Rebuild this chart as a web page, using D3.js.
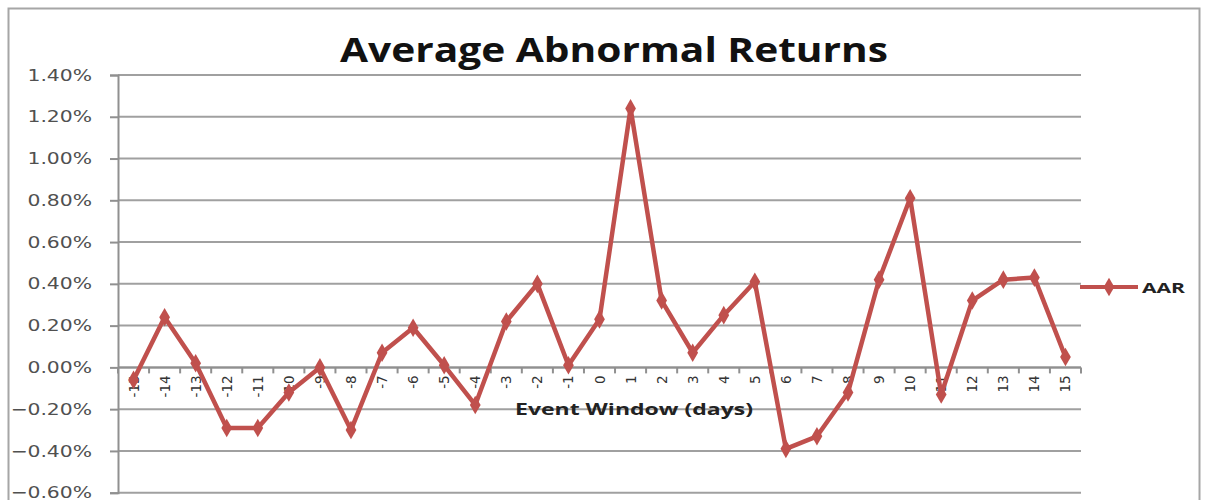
<!DOCTYPE html>
<html><head><meta charset="utf-8">
<script src="https://cdn.jsdelivr.net/npm/d3@7"></script>
<style>body{margin:0;background:#fff}svg{display:block}</style>
</head><body>
<svg id="c" width="1207" height="500"></svg>
<script>
const categories = ["-15","-14","-13","-12","-11","-10","-9","-8","-7","-6","-5","-4","-3","-2","-1","0","1","2","3","4","5","6","7","8","9","10","11","12","13","14","15"];
const aar = [-0.06,0.24,0.02,-0.29,-0.29,-0.12,0.00,-0.30,0.07,0.19,0.01,-0.18,0.22,0.40,0.01,0.23,1.24,0.32,0.07,0.25,0.41,-0.39,-0.33,-0.12,0.42,0.81,-0.13,0.32,0.42,0.43,0.05];
const yTicks = [1.4,1.2,1.0,0.8,0.6,0.4,0.2,0,-0.2,-0.4,-0.6];
const seriesName = "AAR";
const title = "Average Abnormal Returns";
const xTitle = "Event Window (days)";

const svg = d3.select("#c");
const pL = 118, pR = 1081, pT = 75, pB = 492.7;
const red = "#c0504d";

function stretch(sel, f){
  sel.each(function(){ const w = this.getComputedTextLength(); d3.select(this).attr("textLength", w*f).attr("lengthAdjust","spacingAndGlyphs"); });
}

// outer frame
svg.append("rect").attr("x",8.5).attr("y",8.5).attr("width",1191).attr("height",500)
  .attr("fill","none").attr("stroke","#a6a6a6").attr("stroke-width",2);

const x = d3.scaleBand().domain(categories).range([pL,pR]);
const y = d3.scaleLinear().domain([-0.6,1.4]).range([pB,pT]);

// gridlines
svg.append("g").selectAll("line").data(yTicks).join("line")
  .attr("x1",pL).attr("x2",pR).attr("y1",d=>y(d)).attr("y2",d=>y(d))
  .attr("stroke","#a0a0a0").attr("stroke-width",2);

// y axis
const yAxis = d3.axisLeft(y).tickValues(yTicks).tickSize(8).tickPadding(18)
  .tickFormat(d=>d3.format(".2f")(d)+"%");
const gy = svg.append("g").attr("transform",`translate(${pL},0)`).call(yAxis);
gy.select(".domain").attr("stroke","#909090").attr("stroke-width",2);
gy.selectAll(".tick line").attr("stroke","#909090").attr("stroke-width",2);
gy.selectAll("text").attr("font-family","DejaVu Sans").attr("font-size",16).attr("fill","#505050");
stretch(gy.selectAll("text"), 1.27);

// x axis at zero
const gx = svg.append("g").attr("transform",`translate(0,${y(0)})`);
gx.append("line").attr("x1",pL).attr("x2",pR).attr("stroke","#909090").attr("stroke-width",2);
const bounds = categories.map(c=>x(c)).concat([pR]);
gx.selectAll(".tk").data(bounds).join("line").attr("class","tk")
  .attr("x1",d=>d).attr("x2",d=>d).attr("y1",0).attr("y2",6)
  .attr("stroke","#909090").attr("stroke-width",2);
gx.selectAll(".lb").data(categories).join("text").attr("class","lb")
  .attr("transform",d=>`translate(${x(d)+x.bandwidth()/2+5},8) rotate(-90)`)
  .attr("text-anchor","end").attr("font-family","DejaVu Sans").attr("font-size",13.5)
  .attr("fill","#333").text(d=>d);

// x title
const xt = svg.append("text").attr("x",634).attr("y",415).attr("text-anchor","middle")
  .attr("font-family","Open Sans").attr("font-weight","bold").attr("font-size",16)
  .attr("fill","#222").text(xTitle);
stretch(xt, 238/ xt.node().getComputedTextLength());

// title
const tt = svg.append("text").attr("x",614).attr("y",62).attr("text-anchor","middle")
  .attr("font-family","Open Sans").attr("font-weight","bold").attr("font-size",34)
  .attr("fill","#111").text(title);
stretch(tt, 548/ tt.node().getComputedTextLength());

// line
const cx = d=>x(d)+x.bandwidth()/2;
const data = categories.map((c,i)=>({c,v:aar[i]}));
svg.append("path").datum(data)
  .attr("d",d3.line().x(d=>cx(d.c)).y(d=>y(d.v)))
  .attr("fill","none").attr("stroke",red).attr("stroke-width",4.5).attr("stroke-linejoin","round");
const diamond = d3.symbol().type(d3.symbolDiamond).size(100);
svg.append("g").selectAll("path").data(data).join("path")
  .attr("d",diamond).attr("transform",d=>`translate(${cx(d.c)},${y(d.v)})`).attr("fill",red);

// legend
const lg = svg.append("g").attr("transform","translate(1080,287)");
lg.append("line").attr("x1",0).attr("x2",58).attr("stroke",red).attr("stroke-width",4);
lg.append("path").attr("d",diamond).attr("transform","translate(29,0)").attr("fill",red);
const lt = lg.append("text").attr("x",62).attr("y",5.5).attr("font-family","Open Sans").attr("font-weight","bold")
  .attr("font-size",15).attr("fill","#222").text(seriesName);
stretch(lt, 43/ lt.node().getComputedTextLength());
</script>
</body></html>
